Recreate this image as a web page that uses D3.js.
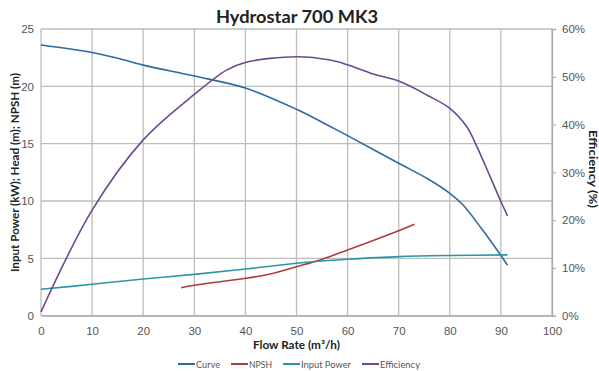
<!DOCTYPE html>
<html><head><meta charset="utf-8">
<script src="https://cdn.jsdelivr.net/npm/d3@7"></script>
<style>
body{margin:0;background:#fff;}
svg{display:block;font-family:"Lato","Open Sans",sans-serif;}
</style></head>
<body><svg id="c" width="599" height="371"></svg>
<script>
const xTicks=[0,10,20,30,40,50,60,70,80,90,100];
const yTicks=[0,5,10,15,20,25];
const rTicks=[0,10,20,30,40,50,60];
const curveX=[0,10,15,20,30,40,50,56.6,60,70,75.5,80,82.6,86.2,90,91.3];
const curveY=[23.6,22.95,22.45,21.85,20.9,19.85,18.0,16.5,15.7,13.29,11.98,10.67,9.65,7.6,5.25,4.4];
const npshX=[27.4,30,40,44.8,50,54.6,60,70,73.1];
const npshY=[2.44,2.65,3.26,3.64,4.27,4.86,5.73,7.41,7.97];
const powerX=[0,10,20,30,40,50,55,60,70,80,91.3];
const powerY=[2.3,2.74,3.2,3.6,4.07,4.57,4.77,4.92,5.15,5.25,5.3];
const effX=[0,10,20,30,36.3,40,50,56.6,60,65,70,75.5,80,83.3,85.3,87.9,90,91.3];
const effY=[0.8,22.1,36.8,46.3,51.4,53.0,54.2,53.5,52.5,50.6,49.1,46.2,43.4,39.6,35.4,29.1,23.9,20.9];
const names=["Curve","NPSH","Input Power","Efficiency"];
const colors=["#2f6aa3","#b23a3a","#2a96a8","#6b4a8f"];

const svg=d3.select("#c");
const L=41,R=552,T=29,B=315.7;
const x=d3.scaleLinear().domain([0,100]).range([L,R]);
const y=d3.scaleLinear().domain([0,25]).range([B,T]);
const yr=d3.scaleLinear().domain([0,60]).range([B,T]);
const grid="#bdbdbd";

// grid
svg.append("g").selectAll("line").data(xTicks).join("line")
 .attr("x1",d=>x(d)).attr("x2",d=>x(d)).attr("y1",T).attr("y2",B)
 .attr("stroke",grid).attr("stroke-width",1.3);
svg.append("g").selectAll("line").data(yTicks).join("line")
 .attr("x1",L).attr("x2",R).attr("y1",d=>y(d)).attr("y2",d=>y(d))
 .attr("stroke",grid).attr("stroke-width",1.3);

// axes
const ax=svg.append("g").attr("transform",`translate(0,${B})`)
 .call(d3.axisBottom(x).tickValues(xTicks).tickSize(0).tickPadding(11));
const ay=svg.append("g").attr("transform",`translate(${L},0)`)
 .call(d3.axisLeft(y).tickValues(yTicks).tickSize(0).tickPadding(7));
const ar=svg.append("g").attr("transform",`translate(${R},0)`)
 .call(d3.axisRight(yr).tickValues(rTicks).tickSize(4).tickPadding(6).tickFormat(d=>d+"%"));
[ax,ay,ar].forEach(g=>{
 g.select(".domain").attr("stroke","#aaa").attr("stroke-width",1.3);
 g.selectAll(".tick line").attr("stroke","#aaa");
 g.selectAll("text").attr("fill","#555").attr("font-size","11.5px");
});
ay.select(".domain").remove();

// lines
const series=[[curveX,curveY,y],[npshX,npshY,y],[powerX,powerY,y],[effX,effY,yr]];
series.forEach((s,i)=>{
 const pts=s[0].map((v,k)=>[v,s[1][k]]);
 const line=d3.line().x(d=>x(d[0])).y(d=>s[2](d[1])).curve(d3.curveCatmullRom.alpha(0.5));
 svg.append("path").datum(pts).attr("d",line).attr("fill","none")
  .attr("stroke",colors[i]).attr("stroke-width",1.6);
});

function fit(sel,w){return sel.attr("textLength",w).attr("lengthAdjust","spacingAndGlyphs");}
// title
fit(svg.append("text").attr("x",297).attr("y",23).attr("text-anchor","middle")
 .attr("font-size","16.5px").attr("font-weight","bold").attr("fill","#222")
 .text("Hydrostar 700 MK3"),162);
fit(svg.append("text").attr("x",296.5).attr("y",349).attr("text-anchor","middle")
 .attr("font-size","10.5px").attr("font-weight","bold").attr("fill","#222")
 .text("Flow Rate (m³/h)"),87);
fit(svg.append("text").attr("transform","translate(19,172.5) rotate(-90)").attr("text-anchor","middle")
 .attr("font-size","10.5px").attr("font-weight","bold").attr("fill","#222")
 .text("Input Power (kW); Head (m); NPSH (m)"),199);
fit(svg.append("text").attr("transform","translate(588.5,169) rotate(90)").attr("text-anchor","middle")
 .attr("font-size","10.5px").attr("font-weight","bold").attr("fill","#222")
 .text("Efficiency (%)"),78);

// legend
const lx=[178,231,283,362];
const lw=[24,23,50,40];
names.forEach((n,i)=>{
 svg.append("line").attr("x1",lx[i]).attr("x2",lx[i]+17).attr("y1",364).attr("y2",364)
  .attr("stroke",colors[i]).attr("stroke-width",2);
 fit(svg.append("text").attr("x",lx[i]+18).attr("y",367.5).attr("font-size","9.5px").attr("fill","#555").text(n),lw[i]);
});
</script></body></html>
